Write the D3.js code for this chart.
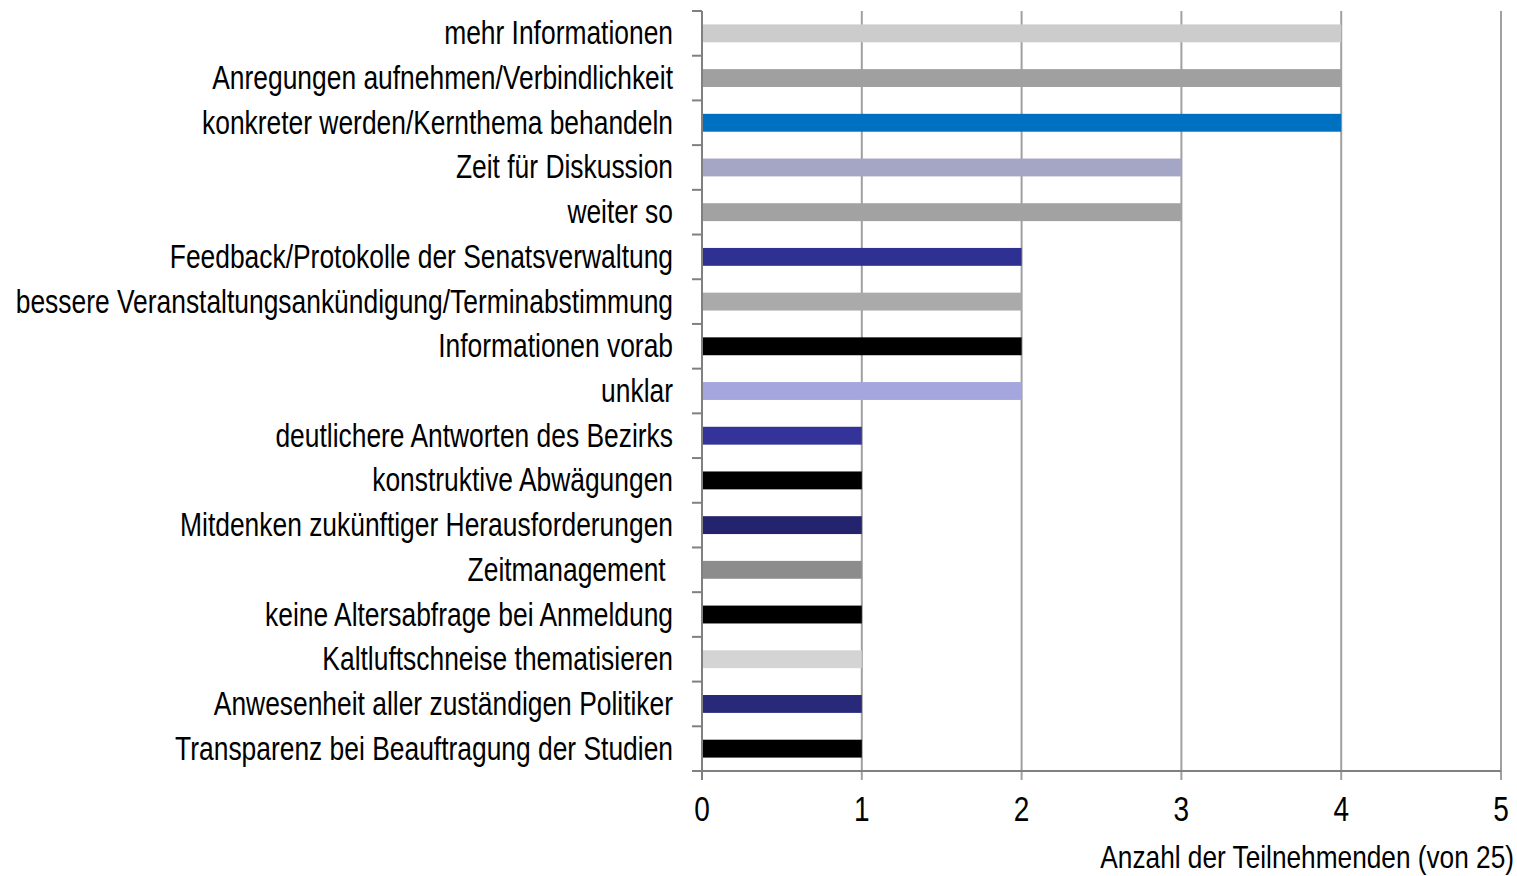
<!DOCTYPE html>
<html>
<head>
<meta charset="utf-8">
<script src="https://cdn.jsdelivr.net/npm/d3@7"></script>
<style>
  body { margin: 0; background: #fff; }
  svg text { font-family: "Liberation Sans", Arial, sans-serif; fill: #000; }
</style>
</head>
<body>
<svg id="chart"></svg>
<script>
// categories, top to bottom
const categories = [
  "mehr Informationen",
  "Anregungen aufnehmen/Verbindlichkeit",
  "konkreter werden/Kernthema behandeln",
  "Zeit für Diskussion",
  "weiter so",
  "Feedback/Protokolle der Senatsverwaltung",
  "bessere Veranstaltungsankündigung/Terminabstimmung",
  "Informationen vorab",
  "unklar",
  "deutlichere Antworten des Bezirks",
  "konstruktive Abwägungen",
  "Mitdenken zukünftiger Herausforderungen",
  "Zeitmanagement ",
  "keine Altersabfrage bei Anmeldung",
  "Kaltluftschneise thematisieren",
  "Anwesenheit aller zuständigen Politiker",
  "Transparenz bei Beauftragung der Studien"
];
const counts = [4, 4, 4, 3, 3, 2, 2, 2, 2, 1, 1, 1, 1, 1, 1, 1, 1];
const barColors = [
  "#cccccc", "#a0a0a0", "#0070c0", "#a5a5c6", "#a2a2a2",
  "#2e3192", "#aaaaaa", "#000000", "#a6a6de", "#333399",
  "#000000", "#24246e", "#8c8c8c", "#000000", "#d4d4d4",
  "#29297a", "#000000"
];
const xTicks = [0, 1, 2, 3, 4, 5];
const xTitle = "Anzahl der Teilnehmenden (von 25)";

const W = 1517, H = 876;
const margin = {top: 11, right: 16, bottom: 105, left: 702};
const narrow = 0.8; // squeeze text to look like a condensed face

const svg = d3.select("#chart").attr("width", W).attr("height", H);

const x = d3.scaleLinear().domain([0, 5]).range([margin.left, W - margin.right]);
const y = d3.scaleBand().domain(d3.range(categories.length))
  .range([margin.top, H - margin.bottom]).paddingInner(0.6).paddingOuter(0.3);

const bottom = H - margin.bottom;

// vertical gridlines (extend below the axis as tick marks)
svg.append("g").selectAll("line")
  .data(xTicks.slice(1))
  .enter().append("line")
    .attr("x1", d => x(d)).attr("x2", d => x(d))
    .attr("y1", margin.top).attr("y2", bottom + 9)
    .attr("stroke", "#a0a0a0").attr("stroke-width", 2);

// bars
svg.append("g").selectAll("rect")
  .data(counts)
  .enter().append("rect")
    .attr("x", x(0))
    .attr("y", (d, i) => y(i))
    .attr("width", d => x(d) - x(0))
    .attr("height", y.bandwidth())
    .attr("fill", (d, i) => barColors[i]);

// left axis with ticks between categories
const step = y.step();
const yEdges = d3.range(categories.length + 1).map(i => margin.top + i * step);
const axisG = svg.append("g");
axisG.append("line")
  .attr("x1", x(0)).attr("x2", x(0))
  .attr("y1", margin.top).attr("y2", bottom + 9)
  .attr("stroke", "#808080").attr("stroke-width", 2);
axisG.selectAll("line.tk")
  .data(yEdges)
  .enter().append("line").attr("class", "tk")
    .attr("x1", x(0) - 10).attr("x2", x(0))
    .attr("y1", d => d).attr("y2", d => d)
    .attr("stroke", "#808080").attr("stroke-width", 2);

// bottom axis line
axisG.append("line")
  .attr("x1", x(0)).attr("x2", x(5))
  .attr("y1", bottom).attr("y2", bottom)
  .attr("stroke", "#808080").attr("stroke-width", 2);

// category labels
svg.append("g").selectAll("text")
  .data(categories)
  .enter().append("text")
    .attr("transform", (d, i) =>
      `translate(${x(0) - 29},${y(i) + y.bandwidth() / 2 + 11}) scale(${narrow},1)`)
    .attr("text-anchor", "end")
    .attr("font-size", 33)
    .text(d => d.replace(/ $/, "\u00a0"));

// x tick labels
svg.append("g").selectAll("text")
  .data(xTicks)
  .enter().append("text")
    .attr("transform", d => `translate(${x(d)},821) scale(${narrow},1)`)
    .attr("text-anchor", "middle")
    .attr("font-size", 35)
    .text(d => d);

// axis title
svg.append("text")
  .attr("transform", `translate(${W - 3},868) scale(0.82,1)`)
  .attr("text-anchor", "end")
  .attr("font-size", 32)
  .text(xTitle);
</script>
</body>
</html>
